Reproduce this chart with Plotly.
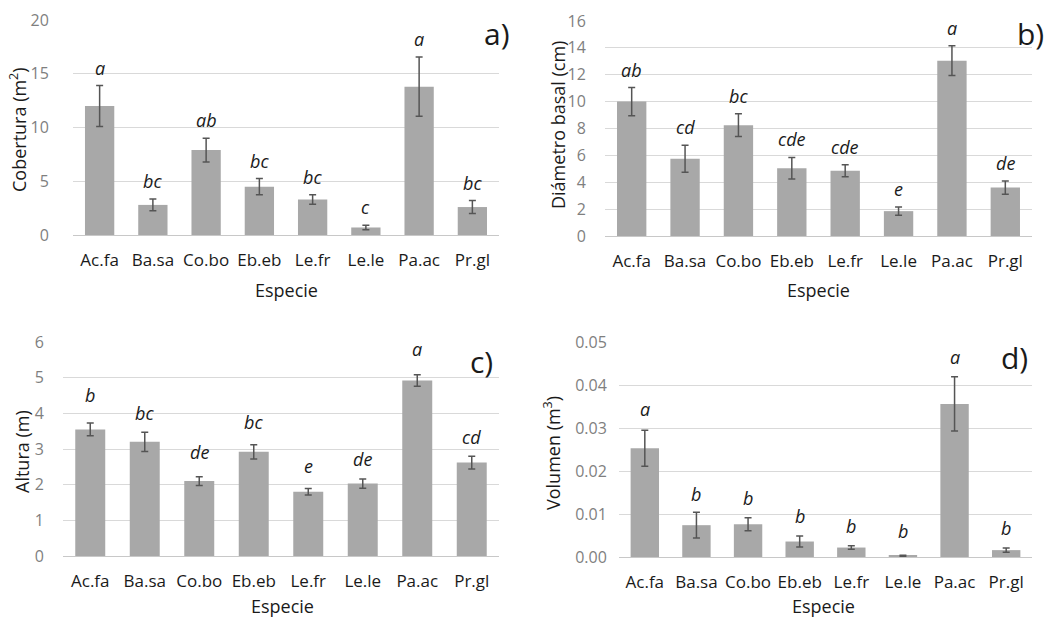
import plotly.graph_objects as go

W, H = 1049, 620

especies = ["Ac.fa", "Ba.sa", "Co.bo", "Eb.eb", "Le.fr", "Le.le", "Pa.ac", "Pr.gl"]
eje_x = "Especie"

cobertura = [12.0, 2.8, 7.9, 4.5, 3.3, 0.7, 13.8, 2.6]
cobertura_err = [1.9, 0.55, 1.1, 0.75, 0.45, 0.2, 2.75, 0.6]
cobertura_let = ["a", "bc", "ab", "bc", "bc", "c", "a", "bc"]

diametro = [10.0, 5.75, 8.25, 5.05, 4.85, 1.85, 13.05, 3.6]
diametro_err = [1.05, 1.0, 0.85, 0.8, 0.45, 0.3, 1.1, 0.5]
diametro_let = ["ab", "cd", "bc", "cde", "cde", "e", "a", "de"]

altura = [3.55, 3.2, 2.1, 2.92, 1.8, 2.03, 4.92, 2.62]
altura_err = [0.18, 0.27, 0.12, 0.2, 0.09, 0.13, 0.16, 0.18]
altura_let = ["b", "bc", "de", "bc", "e", "de", "a", "cd"]

volumen = [0.0253, 0.0074, 0.0076, 0.0036, 0.0022, 0.0003, 0.0356, 0.0016]
volumen_err = [0.0042, 0.003, 0.0015, 0.0013, 0.0004, 0.0001, 0.0063, 0.0005]
volumen_let = ["a", "b", "b", "b", "b", "b", "a", "b"]

panels = [
    dict(vals=cobertura, err=cobertura_err, let=cobertura_let, title="Cobertura (m<sup>2</sup>)",
         rng=[0, 20], dtick=5, fmt="", tag="a)", box=(73, 499, 20, 235), tagpos=(512, 34),
         ytl=(18, 130), xtl=(286, 290), yticklen=20, let_shift=[4, 4, 4, 4, 4, 4, 4, 4]),
    dict(vals=diametro, err=diametro_err, let=diametro_let, title="Diámetro basal (cm)",
         rng=[0, 16], dtick=2, fmt="", tag="b)", box=(605, 1032, 21, 236), tagpos=(1046, 33),
         ytl=(558, 125), xtl=(818, 290), yticklen=15, let_shift=[4, 4, 4, 4, 4, 4, 4, 4]),
    dict(vals=altura, err=altura_err, let=altura_let, title="Altura (m)",
         rng=[0, 6], dtick=1, fmt="", tag="c)", box=(63, 499, 342, 556), tagpos=(495, 361),
         ytl=(22, 452), xtl=(282, 606), yticklen=15, let_shift=[14, 5, 11, 9, 9, 6, 12, 5]),
    dict(vals=volumen, err=volumen_err, let=volumen_let, title="Volumen (m<sup>3</sup>)",
         rng=[0, 0.05], dtick=0.01, fmt=".2f", tag="d)", box=(619, 1032, 342, 557), tagpos=(1030, 357),
         ytl=(552, 453), xtl=(823, 606), yticklen=8, let_shift=[7, 4, 6, 6, 6, 10, 6, 6]),
]

FONT = "Open Sans, Noto Sans, sans-serif"
TXT = "#1a1a1a"
fig = go.Figure()
layout = dict(width=W, height=H, margin=dict(l=0, r=0, t=0, b=0),
              paper_bgcolor="white", plot_bgcolor="white", showlegend=False,
              font=dict(family=FONT, color=TXT), bargap=0.45)
annotations = []
for i, p in enumerate(panels):
    k = "" if i == 0 else str(i + 1)
    x0, x1, y0, y1 = p["box"]
    fig.add_trace(go.Bar(
        x=especies, y=p["vals"], xaxis="x" + k, yaxis="y" + k,
        marker=dict(color="#a8a8a8", line=dict(width=0)),
        error_y=dict(type="data", array=p["err"], visible=True, color="#555555", thickness=1.5, width=3.5),
        hoverinfo="x+y"))
    layout["xaxis" + k] = dict(domain=[x0 / W, x1 / W], anchor="y" + k, automargin=False,
                               tickfont=dict(size=17, color=TXT), showgrid=False,
                               showline=False, ticks="outside", ticklen=10, tickcolor="rgba(0,0,0,0)")
    layout["yaxis" + k] = dict(domain=[1 - y1 / H, 1 - y0 / H], anchor="x" + k, automargin=False,
                               range=p["rng"], dtick=p["dtick"], tickformat=p["fmt"],
                               tickfont=dict(size=16, color="#7f7f7f"),
                               showgrid=True, gridcolor="#d9d9d9", gridwidth=1,
                               zeroline=True, zerolinecolor="#c8c8c8", zerolinewidth=1,
                               showline=False, ticks="outside", ticklen=p["yticklen"],
                               tickcolor="rgba(0,0,0,0)")
    annotations.append(dict(x=p["ytl"][0] / W, y=1 - p["ytl"][1] / H, xref="paper", yref="paper",
                            text=p["title"], textangle=-90, showarrow=False,
                            xanchor="center", yanchor="middle", font=dict(size=18, color=TXT)))
    annotations.append(dict(x=p["xtl"][0] / W, y=1 - p["xtl"][1] / H, xref="paper", yref="paper",
                            text=eje_x, showarrow=False,
                            xanchor="center", yanchor="middle", font=dict(size=18, color=TXT)))
    for j, sp in enumerate(especies):
        annotations.append(dict(x=sp, y=p["vals"][j] + p["err"][j], xref="x" + k, yref="y" + k,
                                text="<i>" + p["let"][j] + "</i>", showarrow=False,
                                yanchor="bottom", yshift=p["let_shift"][j],
                                font=dict(size=18, color=TXT)))
    annotations.append(dict(x=p["tagpos"][0] / W, y=1 - p["tagpos"][1] / H, xref="paper", yref="paper",
                            text=p["tag"], showarrow=False, xanchor="right", yanchor="middle",
                            font=dict(size=30, color=TXT)))
layout["annotations"] = annotations
fig.update_layout(**layout)
fig.write_html("out.html", config={"displayModeBar": False},
               post_script="document.body.style.margin='0';document.body.style.overflow='hidden';")
